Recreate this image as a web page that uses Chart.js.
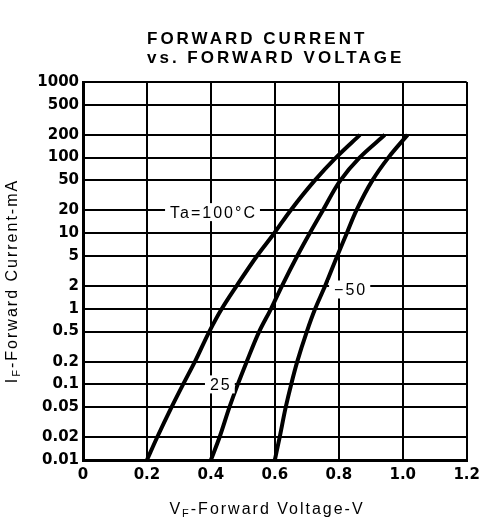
<!DOCTYPE html>
<html>
<head>
<meta charset="utf-8">
<script src="https://cdn.jsdelivr.net/npm/chart.js@4/dist/chart.umd.min.js"></script>
<style>
html, body { margin: 0; padding: 0; background: #fff; }
</style>
</head>
<body>
<canvas id="FwdChart" width="486" height="529"></canvas>
<script>
// x axis ticks (V) and y axis ticks (mA)
const voltageTicks = [0, 0.2, 0.4, 0.6, 0.8, 1.0, 1.2];
const currentTicks = [0.01, 0.02, 0.05, 0.1, 0.2, 0.5, 1, 2, 5, 10, 20, 50, 100, 200, 500, 1000];

const currentPoints = [0.01, 0.02, 0.05, 0.1, 0.2, 0.5, 1, 2, 5, 10, 20, 50, 100, 200];
// forward voltage (V) at those currents
const vf100 = [0.20, 0.232, 0.277, 0.313, 0.35, 0.395, 0.434, 0.48, 0.544, 0.598, 0.649, 0.725, 0.791, 0.866];
const vf25 = [0.40, 0.427, 0.458, 0.484, 0.512, 0.551, 0.588, 0.622, 0.67, 0.709, 0.75, 0.805, 0.865, 0.944];
const vfMinus50 = [0.60, 0.615, 0.634, 0.651, 0.67, 0.70, 0.726, 0.757, 0.795, 0.825, 0.855, 0.905, 0.955, 1.015];

// curve labels: text, x (V), y (mA)
const curveLabels = [
	["Ta=100\u00b0C", 0.405, 19],
	["25", 0.428, 0.1],
	["\u221250", 0.834, 1.8]
];

function toPoints(vf) {
	return currentPoints.map((c, i) => ({ x: vf[i], y: c }));
}

function curve(label, vf) {
	return {
		label: label,
		data: toPoints(vf),
		borderColor: "#000",
		borderWidth: 4,
		pointRadius: 0,
		fill: false,
		cubicInterpolationMode: "monotone"
	};
}

// text with a subscript, centred on (x, y)
function subText(ctx, main, sub, rest, x, y) {
	ctx.font = "16px 'Liberation Sans', Arial, sans-serif";
	const w1 = ctx.measureText(main).width;
	const w3 = ctx.measureText(rest).width;
	ctx.font = "11px 'Liberation Sans', Arial, sans-serif";
	const w2 = ctx.measureText(sub).width;
	let left = x - (w1 + w2 + w3) / 2;
	ctx.textAlign = "left";
	ctx.textBaseline = "alphabetic";
	ctx.font = "16px 'Liberation Sans', Arial, sans-serif";
	ctx.fillText(main, left, y);
	ctx.font = "11px 'Liberation Sans', Arial, sans-serif";
	ctx.fillText(sub, left + w1, y + 3);
	ctx.font = "16px 'Liberation Sans', Arial, sans-serif";
	ctx.fillText(rest, left + w1 + w2, y);
}

const textPlugin = {
	id: "textPlugin",
	afterDraw(chart) {
		const ctx = chart.ctx;
		const xs = chart.scales.x;
		const ys = chart.scales.y;
		ctx.save();
		ctx.fillStyle = "#000";

		// title
		ctx.letterSpacing = "3px";
		ctx.font = "bold 17px 'Liberation Sans', Arial, sans-serif";
		ctx.textAlign = "left";
		ctx.textBaseline = "alphabetic";
		ctx.fillText("FORWARD CURRENT", 147, 44);
		ctx.fillText("vs. FORWARD VOLTAGE", 147, 63);

		// axis titles
		ctx.letterSpacing = "2px";
		subText(ctx, "V", "F", "-Forward Voltage-V", 267, 514);
		ctx.save();
		ctx.translate(17, 281);
		ctx.rotate(-Math.PI / 2);
		subText(ctx, "I", "F", "-Forward Current-mA", 0, 0);
		ctx.restore();

		// curve labels on white boxes
		ctx.letterSpacing = "2px";
		ctx.font = "16px 'Liberation Sans', Arial, sans-serif";
		ctx.textAlign = "center";
		ctx.textBaseline = "middle";
		curveLabels.forEach(([txt, v, c]) => {
			const px = xs.getPixelForValue(v);
			const py = ys.getPixelForValue(c);
			const w = ctx.measureText(txt).width;
			ctx.fillStyle = "#fff";
			ctx.fillRect(px - w / 2 - 4, py - 9, w + 8, 18);
			ctx.fillStyle = "#000";
			ctx.fillText(txt, px + 1, py + 1);
		});
		ctx.restore();
	}
};

const CHART = document.getElementById("FwdChart");

let FwdChart = new Chart(CHART, {
	type: "line",
	data: {
		datasets: [
			curve("100", vf100),
			curve("25", vf25),
			curve("-50", vfMinus50)
		]
	},
	options: {
		responsive: false,
		animation: false,
		// curves are read as voltage against current, so interpolate along y
		indexAxis: "y",
		layout: { padding: { top: 82, right: 19, left: 0, bottom: 0 } },
		plugins: {
			legend: { display: false },
			tooltip: { enabled: false },
			title: { display: false }
		},
		scales: {
			x: {
				type: "linear",
				min: 0,
				max: 1.2,
				afterBuildTicks: (s) => { s.ticks = voltageTicks.map(v => ({ value: v })); },
				afterFit: (s) => { s.height = 69; },
				grid: { color: "#000", lineWidth: 2, drawTicks: false },
				border: { color: "#000", width: 3 },
				ticks: {
					color: "#000",
					padding: 6,
					font: { family: "'DejaVu Sans', sans-serif", size: 15, weight: "bold" },
					callback: (v) => v === 0 ? "0" : Number(v).toFixed(1)
				}
			},
			y: {
				type: "logarithmic",
				min: 0.01,
				max: 1000,
				afterBuildTicks: (s) => { s.ticks = currentTicks.map(v => ({ value: v })); },
				afterFit: (s) => { s.width = 83; },
				grid: { color: "#000", lineWidth: 2, drawTicks: false },
				border: { color: "#000", width: 3 },
				ticks: {
					color: "#000",
					padding: 4,
					autoSkip: false,
					font: { family: "'DejaVu Sans', sans-serif", size: 15, weight: "bold" },
					callback: (v) => String(v)
				}
			}
		}
	},
	plugins: [textPlugin]
});
</script>
</body>
</html>
